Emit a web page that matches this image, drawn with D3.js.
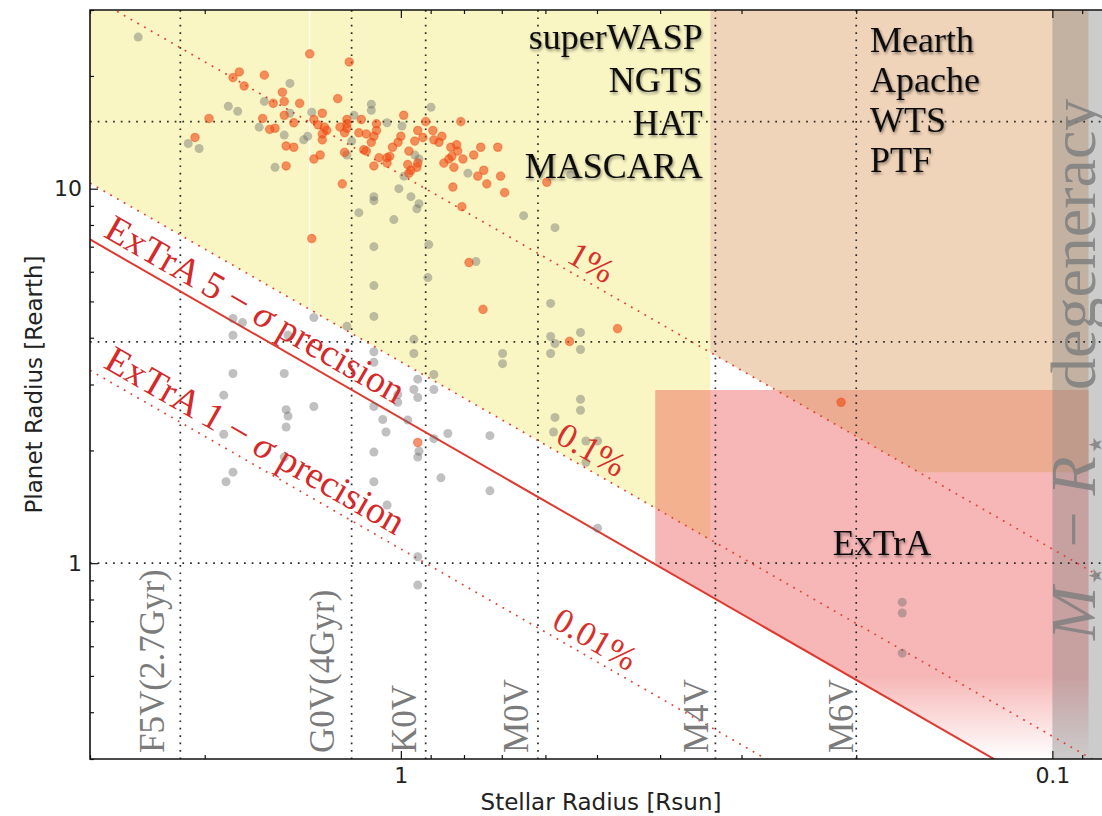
<!DOCTYPE html>
<html>
<head>
<meta charset="utf-8">
<script src="https://cdn.jsdelivr.net/npm/d3@7"></script>
<style>
  html, body { margin: 0; padding: 0; background: #fff; }
  svg { display: block; }
</style>
</head>
<body>
<svg id="chart" width="1102" height="816"></svg>
<script>
// ---- Known transiting planets: [stellar radius (Rsun), planet radius (Rearth)] ----
const giantPlanets = [
  [1.77,20.5],[1.81,19.8],[1.62,20.1],[1.74,18.8],[1.38,22.9],[1.20,21.8],[1.52,18.1],[1.57,16.9],
  [1.51,17.1],[1.43,16.9],[1.25,17.4],[1.97,15.4],[1.63,15.4],[1.51,15.7],[1.46,15.0],[1.59,14.4],
  [1.56,14.5],[2.07,13.7],[1.50,13.0],[1.46,12.9],[1.50,11.5],[1.36,15.3],[1.34,14.8],[1.31,14.6],
  [1.30,14.3],[1.32,15.9],[1.32,14.0],[1.32,13.5],[1.36,12.0],[1.33,12.3],[1.21,15.3],[1.21,14.9],
  [1.21,14.5],[1.24,14.6],[1.22,14.1],[1.15,15.3],[1.16,14.1],[1.13,14.0],[1.10,13.8],[1.09,14.9],
  [1.09,14.3],[1.11,13.3],[1.14,12.7],[1.13,12.6],[1.22,12.5],[1.08,12.1],[1.05,12.1],[1.04,12.2],
  [1.05,11.7],[1.10,11.5],[0.99,15.7],[0.916,15.1],[1.00,13.8],[1.01,13.3],[1.03,12.9],[0.942,14.3],
  [0.952,13.4],[0.925,13.7],[0.893,14.3],[0.890,13.5],[0.972,12.6],[0.976,11.6],[0.942,11.7],
  [0.945,11.4],[0.865,13.8],[0.874,13.3],[0.838,12.9],[0.821,13.1],[0.818,12.6],[0.809,15.1],
  [0.754,12.9],[0.859,11.7],[0.844,12.0],[0.835,12.2],[0.829,11.4],[0.803,12.0],[0.773,12.3],
  [0.762,10.8],[0.746,11.2],[0.738,10.3],[0.832,10.1],[0.972,11.0],[0.965,11.2],[1.23,10.3],
  [0.806,8.95],[0.703,10.8],[0.693,9.76],[0.710,12.9],[0.597,10.4],[0.786,6.35],[1.37,7.36],
  [0.748,4.76],[0.465,4.23],[0.551,3.91],[0.942,2.10],[0.211,2.69]
];

const otherPlanets = [
  [2.53,25.4],[1.84,16.6],[1.78,16.1],[1.62,17.1],[1.48,19.1],[1.65,14.6],[1.51,13.9],[2.12,13.2],
  [2.04,12.8],[1.56,11.4],[1.48,15.9],[1.37,16.0],[1.39,13.8],[1.41,13.5],[1.11,16.8],[1.11,16.2],
  [1.18,15.7],[1.05,15.0],[1.19,13.4],[1.21,12.3],[0.996,14.7],[0.899,16.5],[0.952,12.3],[0.938,12.0],
  [0.789,11.0],[0.989,10.8],[1.007,10.0],[1.10,9.52],[1.10,9.29],[0.965,9.52],[0.938,9.12],[0.945,8.84],
  [1.16,8.63],[1.025,8.27],[0.549,10.9],[0.648,8.47],[0.580,7.87],[0.906,7.09],[0.767,6.39],[0.909,5.79],
  [1.10,7.0],[1.10,5.51],[1.10,4.56],[1.21,4.29],[1.36,4.53],[1.81,4.50],[1.75,4.39],[1.81,4.06],
  [1.49,4.06],[1.81,3.21],[1.51,3.21],[1.10,3.67],[1.10,3.44],[0.955,3.96],[0.955,3.63],[0.890,3.19],
  [0.589,4.94],[0.530,4.13],[0.589,4.03],[0.580,3.86],[0.589,3.63],[0.530,3.72],[0.698,3.63],[0.698,3.41],
  [0.942,3.10],[0.955,2.91],[0.942,2.77],[0.890,2.91],[0.530,2.74],[0.530,2.56],[0.580,2.45],[0.583,2.24],
  [0.520,2.12],[0.499,2.12],[0.520,1.86],[0.976,2.41],[0.847,2.22],[0.890,2.15],[0.730,2.19],[0.938,1.99],
  [0.942,1.92],[0.868,1.69],[0.730,1.56],[0.499,1.24],[1.87,2.81],[1.50,2.57],[1.49,2.47],[1.50,2.31],
  [1.36,2.62],[1.10,2.62],[1.066,2.42],[1.054,2.24],[1.87,2.21],[1.51,1.92],[1.10,1.98],[1.81,1.75],
  [1.855,1.65],[1.10,1.65],[1.05,1.43],[1.011,2.82],[1.011,2.69],[0.942,1.04],[0.942,0.874],
  [0.170,0.787],[0.170,0.736],[0.170,0.575]
];

// ---- Spectral types (vertical reference lines) ----
const spectralTypes = ["F5V(2.7Gyr)", "G0V(4Gyr)", "K0V", "M0V", "M4V", "M6V"];
const spectralRadii = [2.18, 1.19, 0.916, 0.616, 0.329, 0.2];

// ---- Horizontal reference planet sizes (Rearth) ----
const planetSizeLines = [1, 3.9, 15.1];

// ---- Transit-depth iso-lines ----
const depthLevels = [0.01, 0.001, 0.0001];
const depthLabels = ["1%", "0.1%", "0.01%"];
const depthLabelRs = [0.527, 0.527, 0.52];
const extraFiveSigmaDepth = 0.0005;

// ---- Axis ticks ----
const xMajorTicks = [1, 0.1];
const xMajorLabels = ["1", "0.1"];
const xMinorTicks = [3, 2, 0.9, 0.8, 0.7, 0.6, 0.5, 0.4, 0.3, 0.2, 0.09];
const yMajorTicks = [1, 10];
const yMajorLabels = ["1", "10"];
const yMinorTicks = [0.3, 0.4, 0.5, 0.6, 0.7, 0.8, 0.9, 2, 3, 4, 5, 6, 7, 8, 9, 20, 30];

// ---- Survey names ----
const wideFieldSurveys = ["superWASP", "NGTS", "HAT", "MASCARA"];
const mDwarfSurveys = ["Mearth", "Apache", "WTS", "PTF"];

// ---- Survey domains (Rs in Rsun, Rp in Rearth, depth as fraction) ----
const wideFieldRsMin = 0.335, wideFieldDepth = 0.001;
const mDwarfRsMin = 0.088, mDwarfRsMax = 0.335, mDwarfDepth = 0.01, mDwarfRpMin = 1.75;
const extraRsMin = 0.088, extraRsMax = 0.407, extraRpMax = 2.9;
const degeneracyRsMax = 0.1;

// ------------------------------------------------------------------
const RSUN_IN_REARTH = 109.1;
const rpAtDepth = (rs, depth) => Math.sqrt(depth) * RSUN_IN_REARTH * rs;
const rsAtDepth = (rp, depth) => rp / (Math.sqrt(depth) * RSUN_IN_REARTH);

const plot = { left: 90, right: 1112, top: 10, bottom: 759 };
const x = d3.scaleLog().domain([3, 0.081]).range([plot.left, plot.right]);
const y = d3.scaleLog().domain([0.3, 30]).range([plot.bottom, plot.top]);
const [rsHi, rsLo] = x.domain();
const [rpLo, rpHi] = y.domain();

const svg = d3.select("#chart");
const defs = svg.append("defs");

defs.append("clipPath").attr("id", "plotClip").append("rect")
  .attr("x", plot.left).attr("y", plot.top)
  .attr("width", plot.right - plot.left).attr("height", plot.bottom - plot.top);

const fade = defs.append("linearGradient").attr("id", "extraFade")
  .attr("gradientUnits", "userSpaceOnUse")
  .attr("x1", 0).attr("x2", 0).attr("y1", y(0.5)).attr("y2", y(rpLo));
fade.append("stop").attr("offset", 0).attr("stop-color", "rgb(232,48,48)").attr("stop-opacity", 0.35);
fade.append("stop").attr("offset", 1).attr("stop-color", "rgb(232,48,48)").attr("stop-opacity", 0);

const halo = defs.append("filter").attr("id", "halo")
  .attr("x", "-10%").attr("y", "-30%").attr("width", "125%").attr("height", "170%");
halo.append("feGaussianBlur").attr("in", "SourceAlpha").attr("stdDeviation", 1.8).attr("result", "b");
halo.append("feOffset").attr("in", "b").attr("dx", 1).attr("dy", 1.5).attr("result", "o");
halo.append("feComponentTransfer").attr("in", "o").attr("result", "s")
  .append("feFuncA").attr("type", "linear").attr("slope", 0.45);
const merge = halo.append("feMerge");
merge.append("feMergeNode").attr("in", "s");
merge.append("feMergeNode").attr("in", "SourceGraphic");

const polyPath = d3.line().x(d => x(d[0])).y(d => y(d[1]));
const closed = pts => polyPath(pts) + "Z";

const g = svg.append("g").attr("clip-path", "url(#plotClip)");

// Wide-field ground surveys: above 0.1% depth, stars larger than ~0.33 Rsun
const wideFieldPiece = (a, b) => [
  [a, rpHi], [b, rpHi], [b, rpAtDepth(b, wideFieldDepth)], [a, rpAtDepth(a, wideFieldDepth)]
];
[[rsHi, 1.383], [1.377, wideFieldRsMin]].forEach(([a, b]) => {
  g.append("path").attr("d", closed(wideFieldPiece(a, b)))
    .attr("fill", "rgba(244,235,124,0.45)");
});

// ExTrA domain: above the 5-sigma line, small planets around late M dwarfs
const extraBottom = rsAtDepth(rpLo, extraFiveSigmaDepth);
g.append("path").attr("d", closed([
  [extraRsMax, extraRpMax], [extraRsMin, extraRpMax], [extraRsMin, rpLo],
  [extraBottom, rpLo], [extraRsMax, rpAtDepth(extraRsMax, extraFiveSigmaDepth)]
])).attr("fill", "url(#extraFade)");

// M-dwarf surveys: above 1% depth and Rp > 1.75
const mCorner = rsAtDepth(mDwarfRpMin, mDwarfDepth);
g.append("path").attr("d", closed([
  [mDwarfRsMax, rpHi], [mDwarfRsMin, rpHi], [mDwarfRsMin, mDwarfRpMin],
  [mCorner, mDwarfRpMin], [mDwarfRsMax, rpAtDepth(mDwarfRsMax, mDwarfDepth)]
])).attr("fill", "rgba(222,160,100,0.45)");

// Mass-radius degeneracy band
g.append("rect")
  .attr("x", x(degeneracyRsMax)).attr("y", plot.top)
  .attr("width", x(rsLo) - x(degeneracyRsMax)).attr("height", plot.bottom - plot.top)
  .attr("fill", "rgba(128,128,128,0.4)");

// Reference grid
g.selectAll("line.vgrid").data(spectralRadii).join("line")
  .attr("x1", d => x(d)).attr("x2", d => x(d))
  .attr("y1", plot.top).attr("y2", plot.bottom)
  .attr("stroke", "#2a2a2a").attr("stroke-width", 1.7).attr("stroke-dasharray", "1.7,5.7");
g.selectAll("line.hgrid").data(planetSizeLines).join("line")
  .attr("x1", plot.left).attr("x2", plot.right)
  .attr("y1", d => y(d)).attr("y2", d => y(d))
  .attr("stroke", "#2a2a2a").attr("stroke-width", 1.7).attr("stroke-dasharray", "1.7,6");

// Transit depth lines
const depthLine = depth => polyPath([[rsHi, rpAtDepth(rsHi, depth)], [rsLo, rpAtDepth(rsLo, depth)]]);
depthLevels.forEach(dep => {
  g.append("path").attr("d", depthLine(dep)).attr("fill", "none")
    .attr("stroke", "#e4412f").attr("stroke-width", 1.7).attr("stroke-dasharray", "1.8,6");
});
g.append("path").attr("d", depthLine(extraFiveSigmaDepth)).attr("fill", "none")
  .attr("stroke", "#de3a30").attr("stroke-width", 2);

// Planets
g.selectAll("circle.other").data(otherPlanets).join("circle")
  .attr("cx", d => x(d[0])).attr("cy", d => y(d[1])).attr("r", 4.5)
  .attr("fill", "#6a6a6a").attr("fill-opacity", 0.42);
g.selectAll("circle.giant").data(giantPlanets).join("circle")
  .attr("cx", d => x(d[0])).attr("cy", d => y(d[1])).attr("r", 4.2)
  .attr("fill", "#f04a12").attr("fill-opacity", 0.6)
  .attr("stroke", "#f04a12").attr("stroke-opacity", 0.45).attr("stroke-width", 1.2);

// ---- Annotations ----
const serif = "'Liberation Serif', 'Times New Roman', serif";
const lineAngle = Math.atan2(
  y(rpAtDepth(0.1, 0.01)) - y(rpAtDepth(1, 0.01)),
  x(0.1) - x(1)) * 180 / Math.PI;

// Depth labels
depthLevels.forEach((dep, i) => {
  const rs = depthLabelRs[i];
  svg.append("text")
    .attr("transform", `translate(${x(rs)},${y(rpAtDepth(rs, dep))}) rotate(${lineAngle})`)
    .attr("y", -7).attr("text-anchor", "middle")
    .attr("font-family", serif).attr("font-size", 35).attr("fill", "#d8302a")
    .text(depthLabels[i]);
});

// Precision labels along the ExTrA lines
const precisionLabel = (depth, level) => {
  const rs = 2.92;
  const t = svg.append("text")
    .attr("transform", `translate(${x(rs)},${y(rpAtDepth(rs, depth))}) rotate(${lineAngle})`)
    .attr("y", -9)
    .attr("font-family", serif).attr("font-size", 38).attr("fill", "#d42a2a");
  t.append("tspan").text(`ExTrA ${level} \u2212 `);
  t.append("tspan").attr("font-style", "italic").text("\u03c3");
  t.append("tspan").text(" precision");
};
precisionLabel(extraFiveSigmaDepth, 5);
precisionLabel(depthLevels[2], 1);

// Spectral type labels
const spectralNudge = [-16, -18, -10, -10, -7, -3];
spectralTypes.forEach((name, i) => {
  svg.append("text")
    .attr("transform", `translate(${x(spectralRadii[i]) + spectralNudge[i]},753) rotate(-90)`)
    .attr("font-family", serif).attr("font-size", 35).attr("fill", "#7b7b7b")
    .text(name);
});

// Survey names
wideFieldSurveys.forEach((name, i) => {
  svg.append("text")
    .attr("x", x(0.344)).attr("y", y(23.6) + i * 43)
    .attr("text-anchor", "end")
    .attr("font-family", serif).attr("font-size", 36).attr("fill", "#111")
    .attr("filter", "url(#halo)")
    .text(name);
});
mDwarfSurveys.forEach((name, i) => {
  svg.append("text")
    .attr("x", x(0.1905)).attr("y", y(23.2) + i * 40)
    .attr("font-family", serif).attr("font-size", 36).attr("fill", "#111")
    .attr("filter", "url(#halo)")
    .text(name);
});
svg.append("text")
  .attr("x", x(0.1826)).attr("y", y(1.052))
  .attr("text-anchor", "middle")
  .attr("font-family", serif).attr("font-size", 36).attr("fill", "#111")
  .attr("filter", "url(#halo)")
  .text("ExTrA");

// Mass-radius degeneracy label
const degMath = svg.append("text")
  .attr("transform", `translate(${x(0.086)},${y(0.624)}) rotate(-90)`)
  .attr("font-family", serif).attr("font-size", 64).attr("fill", "#7f7f7f").attr("fill-opacity", 0.85);
degMath.append("tspan").attr("font-style", "italic").text("M");
degMath.append("tspan").attr("font-size", 36).attr("dy", 12).attr("font-family", "'DejaVu Serif', serif").text("\u22c6");
degMath.append("tspan").attr("dy", -12).text(" \u2212 ");
degMath.append("tspan").attr("font-style", "italic").text("R");
degMath.append("tspan").attr("font-size", 36).attr("dy", 12).attr("font-family", "'DejaVu Serif', serif").text("\u22c6");
svg.append("text")
  .attr("transform", `translate(${x(0.086)},${y(2.9)}) rotate(-90)`)
  .attr("font-family", serif).attr("font-size", 64).attr("fill", "#7f7f7f").attr("fill-opacity", 0.85)
  .text("degeneracy");

// ---- Axes ----
const sans = "'DejaVu Sans', sans-serif";
const styleAxis = sel => {
  sel.select(".domain").remove();
  sel.selectAll(".tick line").attr("stroke", "#111").attr("stroke-width", 1.2);
  sel.selectAll(".tick text").attr("font-family", sans).attr("font-size", 22).attr("fill", "#222");
};

svg.append("g").attr("transform", `translate(${plot.left},0)`)
  .call(d3.axisLeft(y).tickValues(yMajorTicks).tickSize(-8).tickPadding(8)
    .tickFormat((d, i) => yMajorLabels[i]))
  .call(styleAxis);
svg.append("g").attr("transform", `translate(${plot.left},0)`)
  .call(d3.axisLeft(y).tickValues(yMinorTicks).tickSize(-4).tickFormat(""))
  .call(styleAxis);
svg.append("g").attr("transform", `translate(0,${plot.bottom})`)
  .call(d3.axisBottom(x).tickValues(xMajorTicks).tickSize(-8).tickPadding(8)
    .tickFormat((d, i) => xMajorLabels[i]))
  .call(styleAxis);
svg.append("g").attr("transform", `translate(0,${plot.bottom})`)
  .call(d3.axisBottom(x).tickValues(xMinorTicks).tickSize(-4).tickFormat(""))
  .call(styleAxis);
svg.append("g").attr("transform", `translate(0,${plot.top})`)
  .call(d3.axisTop(x).tickValues(xMajorTicks).tickSize(-8).tickFormat(""))
  .call(styleAxis);
svg.append("g").attr("transform", `translate(0,${plot.top})`)
  .call(d3.axisTop(x).tickValues(xMinorTicks).tickSize(-4).tickFormat(""))
  .call(styleAxis);

// Spines
svg.append("path")
  .attr("d", `M${plot.right},${plot.top}H${plot.left}V${plot.bottom}H${plot.right}`)
  .attr("fill", "none").attr("stroke", "#111").attr("stroke-width", 1.6);

// Axis titles
svg.append("text")
  .attr("x", (plot.left + plot.right) / 2).attr("y", 810)
  .attr("text-anchor", "middle")
  .attr("font-family", sans).attr("font-size", 23).attr("fill", "#222")
  .text("Stellar Radius [Rsun]");
svg.append("text")
  .attr("transform", `translate(42,${(plot.top + plot.bottom) / 2}) rotate(-90)`)
  .attr("text-anchor", "middle")
  .attr("font-family", sans).attr("font-size", 23).attr("fill", "#222")
  .text("Planet Radius [Rearth]");
</script>
</body>
</html>
